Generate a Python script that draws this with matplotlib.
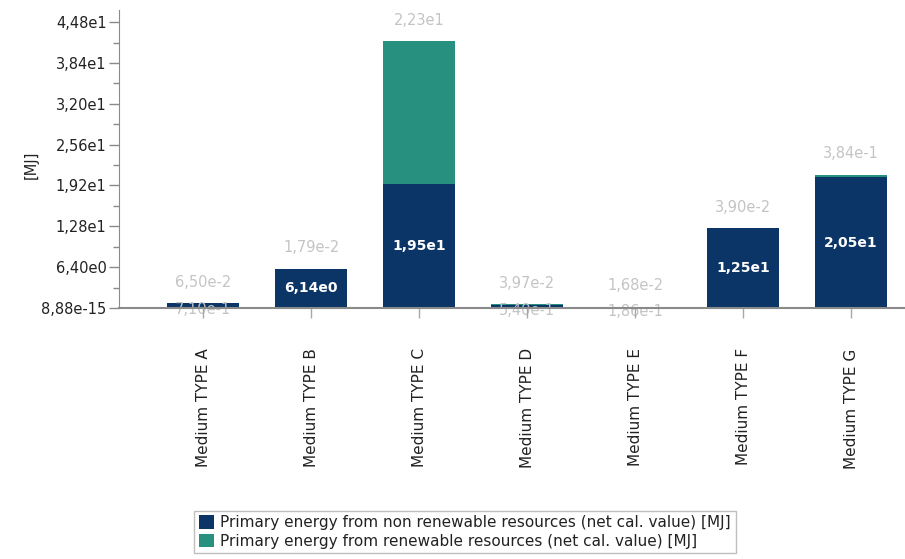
import matplotlib.pyplot as plt
import numpy as np

plt.rcParams["font.family"] = ["DejaVu Sans"]
plt.rcParams["text.color"] = "#222222"
plt.rcParams["xtick.labelcolor"] = "#222222"
plt.rcParams["ytick.labelcolor"] = "#222222"

categories = ["Medium TYPE A", "Medium TYPE B", "Medium TYPE C", "Medium TYPE D",
              "Medium TYPE E", "Medium TYPE F", "Medium TYPE G"]
non_renewable = [0.710, 6.14, 19.5, 0.540, 0.186, 12.5, 20.5]
renewable = [0.065, 0.0179, 22.3, 0.0397, 0.0168, 0.039, 0.384]
non_renewable_labels = ["7,10e-1", "6,14e0", "1,95e1", "5,40e-1", "1,86e-1", "1,25e1", "2,05e1"]
renewable_labels = ["6,50e-2", "1,79e-2", "2,23e1", "3,97e-2", "1,68e-2", "3,90e-2", "3,84e-1"]
yticks = [0, 6.4, 12.8, 19.2, 25.6, 32.0, 38.4, 44.8]
ytick_labels = ["8,88e-15", "6,40e0", "1,28e1", "1,92e1", "2,56e1", "3,20e1", "3,84e1", "4,48e1"]

DARK = "#0a3566"
TEAL = "#27907f"
GREY_TXT = "#c4c4c4"
AXIS = "#8a8a8a"

fig = plt.figure(figsize=(9.05, 5.59), dpi=100)
ax = fig.add_axes([119 / 905, 251 / 559, 786 / 905, 298 / 559])

x = np.arange(len(categories))
w = 0.67
ax.bar(x, non_renewable, w, color=DARK, label="Primary energy from non renewable resources (net cal. value) [MJ]")
ax.bar(x, renewable, w, bottom=non_renewable, color=TEAL,
       label="Primary energy from renewable resources (net cal. value) [MJ]")

for i in range(len(categories)):
    nr = non_renewable[i]
    if nr > 3:
        ax.text(x[i], nr / 2, non_renewable_labels[i], ha="center", va="center",
                color="white", fontsize=10, fontweight="bold")
    else:
        ax.text(x[i], nr / 2 - 0.6, non_renewable_labels[i], ha="center", va="center",
                color=GREY_TXT, fontsize=10.5, zorder=1)
    top = nr + renewable[i]
    ax.annotate(renewable_labels[i], (x[i], top), xytext=(0, 15), textcoords="offset points",
                ha="center", va="center", color=GREY_TXT, fontsize=10.5)

ax.set_xlim(-0.78, 6.5)
ax.set_ylim(0, 46.7)
ax.set_yticks(yticks)
ax.set_yticklabels(ytick_labels, fontsize=10.5)
ax.set_yticks([3.2 + 6.4 * k for k in range(7)], minor=True)
ax.set_xticks(x)
ax.set_xticklabels(categories, rotation=90, fontsize=11)
ax.tick_params(axis="y", which="major", length=7, color=AXIS, width=1, pad=2)
ax.tick_params(axis="y", which="minor", length=4, color=AXIS, width=1)
ax.tick_params(axis="x", length=7, color="#a8a8a8", width=1, pad=22)

for s in ["top", "right"]:
    ax.spines[s].set_visible(False)
ax.spines["left"].set_color(AXIS)
ax.spines["bottom"].set_color(AXIS)
ax.spines["bottom"].set_linewidth(1.5)

fig.text(31 / 905, 1 - 165 / 559, "[MJ]", rotation=90, ha="center", va="center", fontsize=10.5)

leg = fig.legend(loc="center", bbox_to_anchor=(465 / 905, 1 - 532 / 559), ncol=1,
                 fontsize=11, frameon=True, fancybox=False, handlelength=1.0, handleheight=1.0,
                 handletextpad=0.4, labelspacing=0.2, borderpad=0.3)
leg.get_frame().set_edgecolor("#b0b0b0")
leg.get_frame().set_linewidth(1)

fig.savefig("out.png", dpi=100)
